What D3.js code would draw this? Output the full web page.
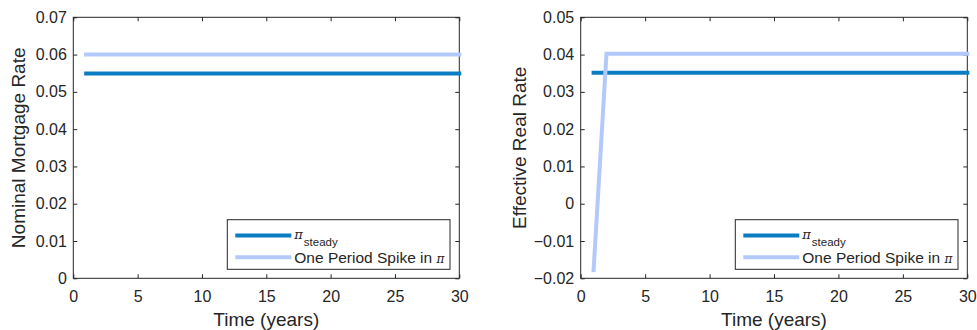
<!DOCTYPE html>
<html><head><meta charset="utf-8">
<script src="https://cdn.jsdelivr.net/npm/d3@7"></script>
<style>
body{margin:0;background:#fff;}
text{font-family:"Liberation Sans",Arial,sans-serif;fill:#262626;}
</style></head><body>
<svg id="c" width="977" height="330"></svg>
<script>
const time = d3.range(1, 31);
const nominalSteady = time.map(() => 0.0549);
const nominalSpike = time.map(() => 0.060);
const realSteady = time.map(() => 0.0351);
const realSpike = time.map((t, i) => i === 0 ? -0.0178 : 0.0402);
const xTicks = [0, 5, 10, 15, 20, 25, 30];
const leftYTicks = [0, 0.01, 0.02, 0.03, 0.04, 0.05, 0.06, 0.07];
const rightYTicks = [-0.02, -0.01, 0, 0.01, 0.02, 0.03, 0.04, 0.05];
const legendLabels = ["steady", "One Period Spike in "];
const colors = ["#0a7cc1", "#b3c9fb"];

const svg = d3.select("#c");
const fmt = v => v === 0 ? "0" : d3.format(".2f")(v);

function panel(x0, x1, yDom, yTicks, ylabel, ylabX, series) {
  const top = 17.3, bottom = 278.3;
  const x = d3.scaleLinear().domain([0, 30]).range([x0, x1]);
  const y = d3.scaleLinear().domain(yDom).range([bottom, top]);
  const g = svg.append("g");
  g.append("rect").attr("x", x0).attr("y", top).attr("width", x1 - x0).attr("height", bottom - top)
    .attr("fill", "none").attr("stroke", "#262626").attr("stroke-width", 1);
  const ax = g.append("g").attr("transform", `translate(0,${bottom})`)
    .call(d3.axisBottom(x).tickValues(xTicks).tickSize(-4).tickPadding(0).tickFormat(d3.format("d")));
  const axT = g.append("g").attr("transform", `translate(0,${top})`)
    .call(d3.axisTop(x).tickValues(xTicks).tickSize(-4).tickFormat(""));
  const ay = g.append("g").attr("transform", `translate(${x0},0)`)
    .call(d3.axisLeft(y).tickValues(yTicks).tickSize(-4).tickPadding(6.5).tickFormat(fmt));
  const ayR = g.append("g").attr("transform", `translate(${x1},0)`)
    .call(d3.axisRight(y).tickValues(yTicks).tickSize(-4).tickFormat(""));
  [ax, axT, ay, ayR].forEach(a => {
    a.select(".domain").remove();
    a.attr("font-size", null).attr("font-family", null);
    a.selectAll("line").attr("stroke", "#262626");
    a.selectAll("text").style("font-size", "16px").attr("fill", "#262626");
  });
  ax.selectAll("text").attr("y", 18.4).attr("dy", "0.35em");
  g.append("text").attr("x", (x0 + x1) / 2).attr("y", 319.5).attr("dy", "0.35em").attr("text-anchor", "middle")
    .style("font-size", "19px").text("Time (years)");
  g.append("text").attr("transform", `translate(${ylabX},${(top + bottom) / 2}) rotate(-90)`)
    .attr("dy", "0.35em").attr("text-anchor", "middle").style("font-size", "19px").text(ylabel);
  const line = d3.line().x((d, i) => x(time[i])).y(d => y(d));
  series.forEach((s, k) => {
    g.append("path").datum(s).attr("d", line).attr("fill", "none")
      .attr("stroke", colors[k]).attr("stroke-width", 4).attr("stroke-linecap", "square");
  });
  const lx0 = x1 - 232, lx1 = x1 - 9.3, ly0 = 219.7, ly1 = 269.3;
  const lg = g.append("g");
  lg.append("rect").attr("x", lx0).attr("y", ly0).attr("width", lx1 - lx0).attr("height", ly1 - ly0)
    .attr("fill", "#fff").attr("stroke", "#262626").attr("stroke-width", 1);
  const rows = [235.5, 257.3];
  rows.forEach((ry, k) => {
    lg.append("line").attr("x1", lx0 + 8).attr("x2", lx0 + 64).attr("y1", ry).attr("y2", ry)
      .attr("stroke", colors[k]).attr("stroke-width", 4);
  });
  const t1 = lg.append("text").attr("x", lx0 + 67).attr("y", 239).style("font-size", "15.5px");
  t1.append("tspan").style("font-family", "'DejaVu Serif',serif").style("font-style", "italic").style("font-size", "13px").text("π");
  t1.append("tspan").attr("dy", 7).attr("dx", 1).style("font-size", "11.5px").text(legendLabels[0]);
  const t2 = lg.append("text").attr("x", lx0 + 67).attr("y", 262.8).style("font-size", "15.5px");
  t2.append("tspan").text(legendLabels[1]);
  t2.append("tspan").style("font-family", "'DejaVu Serif',serif").style("font-style", "italic").style("font-size", "12px").text("π");
}

panel(73.3, 459.3, [0, 0.07], leftYTicks, "Nominal Mortgage Rate", 18.3, [nominalSteady, nominalSpike]);
panel(580.7, 967.3, [-0.02, 0.05], rightYTicks, "Effective Real Rate", 519.3, [realSteady, realSpike]);
</script></body></html>
